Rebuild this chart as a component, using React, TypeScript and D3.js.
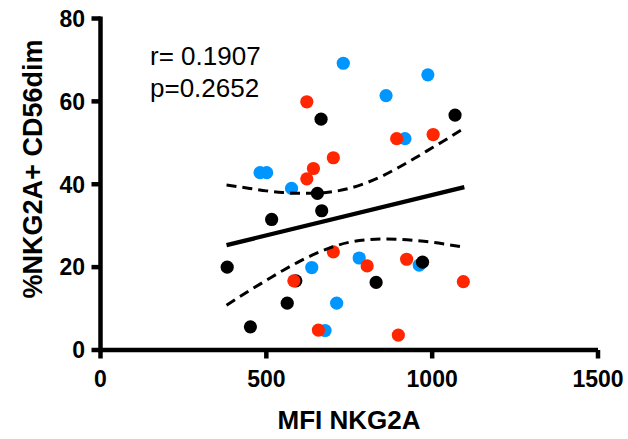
import React from "react";
import * as d3 from "d3";

const blackX = [382, 452, 516, 563, 589, 654, 667, 665, 831, 971, 1069];
const blackY = [20.0, 5.6, 31.5, 11.3, 16.7, 37.8, 33.6, 55.7, 16.3, 21.2, 56.7];
const redX = [622, 702, 642, 622, 893, 1003, 702, 583, 657, 804, 923, 1094, 898];
const redY = [59.9, 46.4, 43.8, 41.3, 51.0, 52.0, 23.7, 16.7, 4.8, 20.3, 21.9, 16.5, 3.6];
const blueX = [481, 501, 576, 732, 861, 987, 918, 637, 780, 712, 677, 961];
const blueY = [42.8, 42.8, 39.0, 69.2, 61.4, 66.4, 51.0, 19.9, 22.2, 11.3, 4.7, 20.5];

const fitX = [380, 1097];
const fitY = [25.3, 39.3];
const bandX = [380, 450, 500, 550, 600, 650, 700, 750, 800, 850, 900, 950, 1000, 1050, 1097];
const bandUpper = [39.8, 39.0, 38.4, 38.0, 37.8, 37.8, 38.2, 39.0, 40.3, 42.0, 44.1, 46.4, 48.8, 51.2, 53.6];
const bandLower = [10.8, 14.4, 16.8, 19.2, 21.4, 23.3, 24.9, 26.0, 26.6, 26.8, 26.7, 26.4, 26.0, 25.4, 24.8];

const xTicks = [0, 500, 1000, 1500];
const yTicks = [0, 20, 40, 60, 80];
const statLines = ["r= 0.1907", "p=0.2652"];
const xTitle = "MFI NKG2A";
const yTitle = "%NKG2A+ CD56dim";

const BLUE = "#0096FF";
const RED = "#FF2600";
const BLACK = "#000000";
const FONT = "'Liberation Sans', Arial, sans-serif";

export default function App() {
  const x = d3.scaleLinear().domain([0, 1500]).range([100.5, 598]);
  const y = d3.scaleLinear().domain([0, 80]).range([350, 18.5]);

  const line = d3
    .line<[number, number]>()
    .x((d) => x(d[0]))
    .y((d) => y(d[1]))
    .curve(d3.curveMonotoneX);

  const fitPath = line(fitX.map((v, i) => [v, fitY[i]] as [number, number])) || "";
  const upperPath = line(bandX.map((v, i) => [v, bandUpper[i]] as [number, number])) || "";
  const lowerPath = line(bandX.map((v, i) => [v, bandLower[i]] as [number, number])) || "";

  const series = [
    { xs: blueX, ys: blueY, color: BLUE },
    { xs: blackX, ys: blackY, color: BLACK },
    { xs: redX, ys: redY, color: RED },
  ];

  return (
    <svg
      width={628}
      height={439}
      style={{ position: "absolute", left: 0, top: 0, background: "#fff" }}
      fontFamily={FONT}
    >
      {/* points */}
      {series.map((s, si) => (
        <g key={si}>
          {s.xs.map((v, i) => (
            <circle key={i} cx={x(v)} cy={y(s.ys[i])} r={6.6} fill={s.color} />
          ))}
        </g>
      ))}

      {/* regression & CI */}
      <path d={upperPath} fill="none" stroke="#000" strokeWidth={3} strokeDasharray="10,6" />
      <path d={lowerPath} fill="none" stroke="#000" strokeWidth={3} strokeDasharray="10,6" />
      <path d={fitPath} fill="none" stroke="#000" strokeWidth={4.2} />

      {/* axes */}
      <line x1={x(0)} x2={x(1500)} y1={y(0)} y2={y(0)} stroke="#000" strokeWidth={4.5} />
      <line x1={x(0)} x2={x(0)} y1={y(0) + 2.25} y2={y(80) - 2} stroke="#000" strokeWidth={4.5} />
      {xTicks.map((t) => (
        <g key={"x" + t}>
          <line x1={x(t)} x2={x(t)} y1={y(0)} y2={y(0) + 8.5} stroke="#000" strokeWidth={4.5} />
          <text x={x(t)} y={387} textAnchor="middle" fontSize={23} fontWeight="bold">
            {t}
          </text>
        </g>
      ))}
      {yTicks.map((t) => (
        <g key={"y" + t}>
          <line x1={x(0) - 9} x2={x(0)} y1={y(t)} y2={y(t)} stroke="#000" strokeWidth={4.5} />
          <text x={85} y={y(t) + 8.3} textAnchor="end" fontSize={23} fontWeight="bold">
            {t}
          </text>
        </g>
      ))}

      {/* titles */}
      <text x={349} y={429} textAnchor="middle" fontSize={26} fontWeight="bold">
        {xTitle}
      </text>
      <text
        transform={`translate(42,169) rotate(-90)`}
        textAnchor="middle"
        fontSize={27}
        fontWeight="bold"
      >
        {yTitle}
      </text>

      {/* stats */}
      {statLines.map((s, i) => (
        <text key={i} x={150} y={65 + i * 31.5} fontSize={26}>
          {s}
        </text>
      ))}
    </svg>
  );
}
